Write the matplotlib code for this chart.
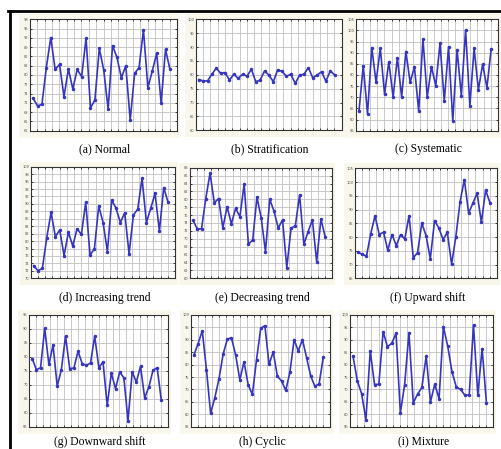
import matplotlib.pyplot as plt
import numpy as np
from matplotlib.patches import Rectangle

normal = [72.5, 70.0, 70.5, 82.4, 92.1, 81.8, 83.4, 73.0, 81.9, 75.5, 81.8, 79.5,
          91.9, 69.4, 71.9, 88.6, 81.6, 69.0, 89.5, 85.7, 79.1, 83.0, 65.4, 80.5,
          82.4, 94.6, 75.9, 81.3, 87.0, 71.0, 88.3, 81.8]
stratification = [78.3, 77.8, 77.8, 80.2, 82.4, 80.5, 80.8, 78.1, 80.2, 78.7, 80.2, 79.5,
                  82.0, 77.5, 78.1, 81.4, 79.9, 77.5, 81.8, 81.2, 79.5, 80.2, 76.9, 79.9,
                  80.2, 82.6, 78.9, 79.9, 81.1, 77.7, 81.4, 79.9]
systematic = [63.8, 84.2, 62.5, 92.3, 76.7, 92.0, 71.3, 86.0, 70.1, 87.8, 70.1, 90.5,
              76.7, 83.7, 63.8, 96.2, 70.1, 83.7, 75.2, 94.2, 68.3, 92.6, 59.3, 91.4,
              70.7, 100.2, 66.2, 92.0, 73.3, 84.9, 74.3, 91.7]
increasing = [73.4, 72.0, 72.7, 80.9, 87.7, 81.2, 83.0, 76.1, 82.4, 78.7, 83.3, 81.8,
              90.4, 76.3, 77.9, 89.4, 85.0, 77.2, 91.0, 88.8, 85.0, 87.6, 76.6, 87.0,
              88.6, 96.9, 85.0, 88.8, 92.8, 82.7, 94.4, 90.4]
decreasing = [74.7, 72.5, 72.5, 80.2, 86.6, 79.1, 80.2, 72.8, 78.1, 73.8, 77.7, 75.6,
              83.8, 68.6, 69.7, 80.5, 75.3, 66.7, 80.0, 77.0, 72.7, 74.8, 62.7, 72.7,
              73.3, 81.1, 68.6, 71.8, 74.8, 64.2, 75.0, 70.5]
upward = [74.5, 73.7, 73.1, 81.2, 87.7, 80.9, 81.8, 75.2, 80.9, 76.9, 80.9, 79.3,
          87.7, 72.5, 74.3, 85.1, 80.5, 72.1, 86.0, 83.3, 79.1, 81.7, 70.1, 80.1,
          92.9, 100.9, 88.7, 92.3, 95.9, 85.3, 97.1, 92.5]
downward = [79.4, 75.4, 76.1, 90.2, 77.3, 84.2, 69.5, 75.4, 87.4, 75.8, 76.0, 82.0,
            77.6, 77.0, 77.8, 87.4, 76.1, 78.2, 62.6, 74.2, 68.6, 74.6, 72.5, 57.2,
            74.6, 71.0, 76.6, 65.3, 69.2, 75.2, 76.1, 64.4]
cyclic = [83.8, 88.5, 93.6, 78.0, 60.4, 66.6, 74.3, 84.2, 90.3, 90.8, 83.8, 73.9,
          81.1, 71.9, 68.0, 82.0, 94.6, 95.7, 80.1, 85.1, 75.3, 73.4, 69.6, 77.0,
          90.1, 85.5, 90.1, 82.7, 75.3, 71.2, 72.3, 83.1]
mixture = [83.4, 73.5, 68.3, 57.8, 85.5, 72.0, 72.1, 93.3, 87.2, 88.6, 92.6, 60.5,
           72.0, 92.9, 64.6, 68.1, 70.8, 83.4, 65.0, 72.1, 66.3, 95.3, 87.5, 77.1,
           71.0, 70.0, 67.7, 67.7, 96.0, 67.7, 86.5, 64.6]

series = [normal, stratification, systematic, increasing, decreasing,
          upward, downward, cyclic, mixture]
captions = ['(a) Normal', '(b) Stratification', '(c) Systematic',
            '(d) Increasing trend', '(e) Decreasing trend', '(f) Upward shift',
            '(g) Downward shift', '(h) Cyclic', '(i) Mixture']
yticks = [(62, 98, 3), (60, 100, 5), (55, 105, 5), (70, 100, 2), (60, 88, 2),
          (65, 105, 5), (55, 95, 5), (55, 100, 5), (55, 100, 5)]

W, H = 502, 449
# boites des axes en pixels (x0, y0, x1, y1)
boxes = [(30, 19.3, 177, 130.7), (195.7, 19.3, 341.7, 130.3), (356, 19.3, 498, 130.7),
         (30.7, 166.7, 175, 278.3), (190, 167.7, 332, 278.3), (355, 168.3, 496.7, 278.3),
         (29.3, 315, 168, 426.7), (191, 315, 330, 426.7), (350, 315, 493.3, 426.7)]
cap_y = [149, 149, 149, 298, 298, 298, 442, 442, 442]

fig = plt.figure(figsize=(W / 100, H / 100), dpi=100)
fig.patch.set_facecolor('white')

x = np.arange(1, 33)
for i, data in enumerate(series):
    x0, y0, x1, y1 = boxes[i]
    # fond creme autour de chaque sous-figure
    fig.patches.append(Rectangle(((x0 - 11) / W, 1 - (y1 + 7) / H), (x1 - x0 + 14) / W,
                                 (y1 - y0 + 12) / H, transform=fig.transFigure,
                                 facecolor='#f9f6ec', edgecolor='none', zorder=-5))
    ax = fig.add_axes([x0 / W, 1 - y1 / H, (x1 - x0) / W, (y1 - y0) / H], zorder=2)
    ax.set_facecolor('white')
    ax.plot(x, data, color='#3535c0', lw=1.2, marker='o', ms=1.5, zorder=3)
    lo, hi, st = yticks[i]
    ax.set_ylim(lo, hi)
    ax.set_xlim(0.3, 33.6)
    ax.set_yticks(np.arange(lo, hi + st / 2, st))
    ax.set_xticks(np.linspace(0.3, 33.6, 21))
    ax.set_xticklabels([])
    ax.grid(True, color='#c0c0c0', lw=0.6)
    ax.tick_params(direction='in', length=1.5, width=0.5, top=True, right=True,
                   labelsize=2.6, labelcolor='#555555', pad=1)
    for s in ax.spines.values():
        s.set_color('#333333')
        s.set_linewidth(0.8)
    fig.text((x0 + x1) / 2 / W + 0.003, 1 - cap_y[i] / H, captions[i],
             ha='center', va='center', fontsize=8.4, family='Liberation Serif')

# cadre noir (haut et gauche)
fig.add_artist(plt.Line2D([8 / W, 1], [1 - 10.5 / H, 1 - 10.5 / H], color='black', lw=2,
                          transform=fig.transFigure))
fig.add_artist(plt.Line2D([9.7 / W, 9.7 / W], [0, 1 - 10.5 / H], color='black', lw=2,
                          transform=fig.transFigure))

plt.savefig('out.png', dpi=100)
